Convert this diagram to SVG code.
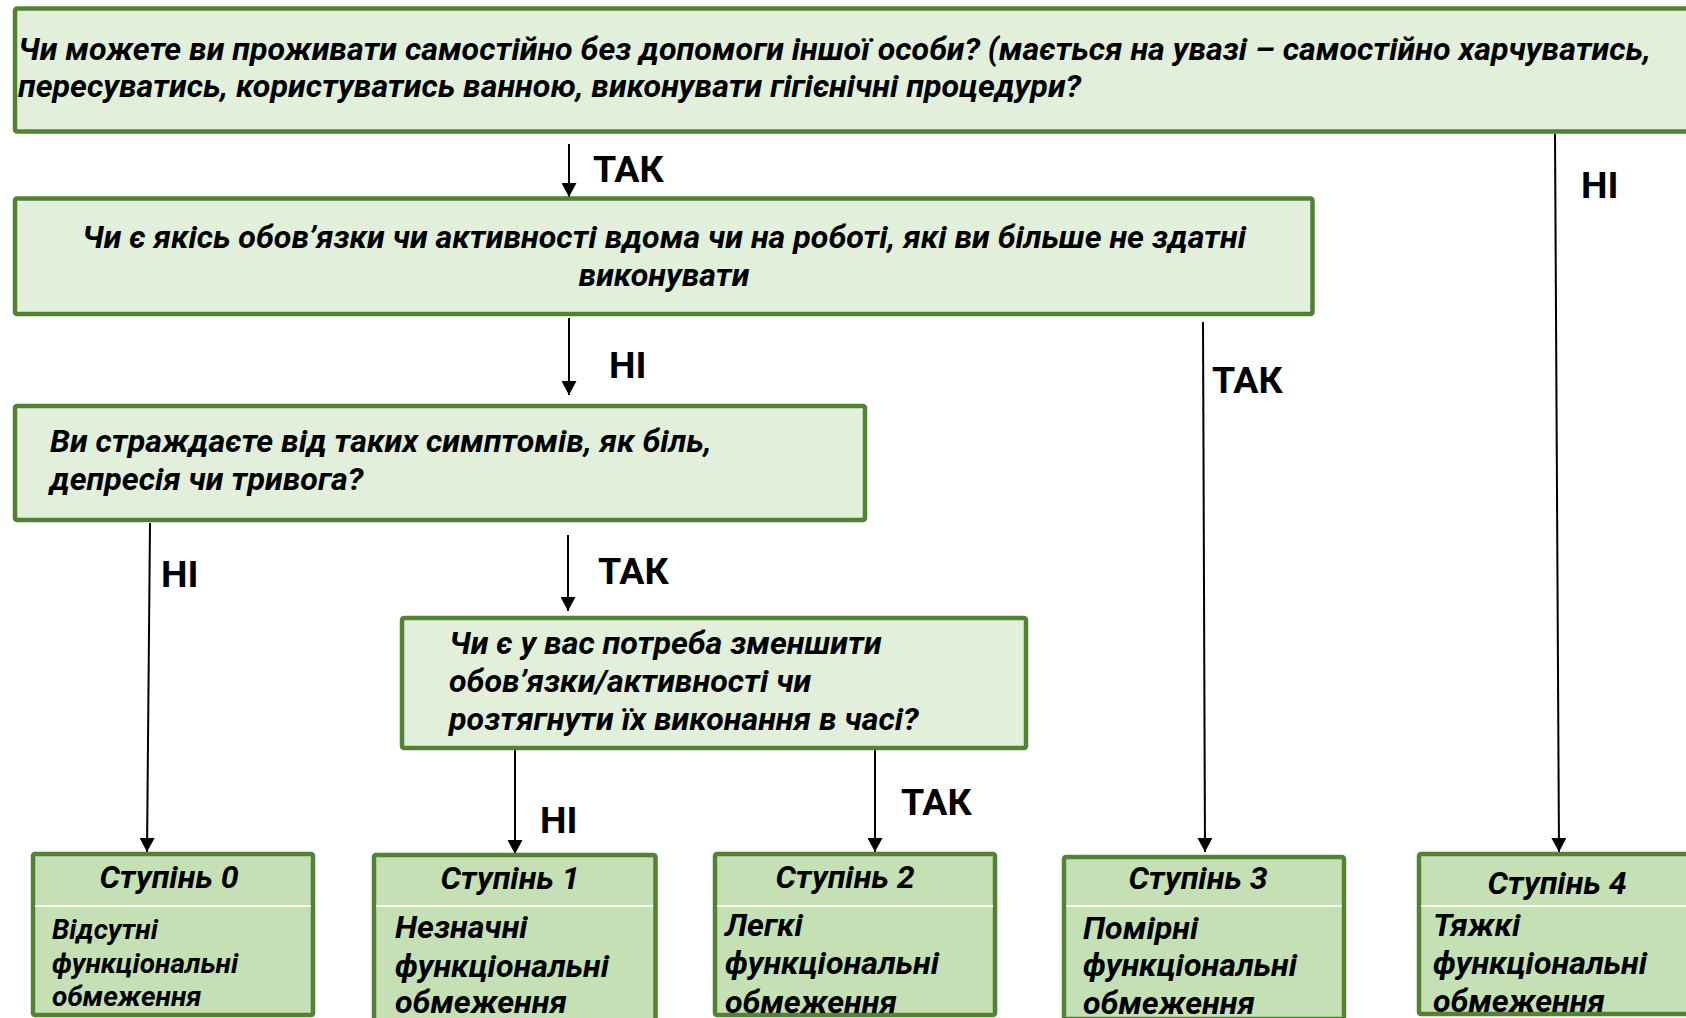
<svg xmlns="http://www.w3.org/2000/svg" width="1686" height="1018" viewBox="0 0 1686 1018">
<style>
.q{fill:#e2efda;stroke:#548235;stroke-width:4.5}
.g{fill:#c5e0b4;stroke:#548235;stroke-width:4.5}
.t{font-family:Roboto,"Liberation Sans",sans-serif;font-weight:bold;font-style:italic;font-size:32.2px;fill:#000}
.ts{font-family:Roboto,"Liberation Sans",sans-serif;font-weight:bold;font-style:italic;font-size:28px;fill:#000}
.l{font-family:Roboto,"Liberation Sans",sans-serif;font-weight:bold;font-size:37.5px;fill:#000}
.c{stroke:#000;stroke-width:2;fill:none;marker-end:url(#ah)}
.d{stroke:#fff;stroke-width:2}
</style>
<defs>
<marker id="ah" markerUnits="userSpaceOnUse" markerWidth="15" markerHeight="15" refX="14" refY="7.5" orient="auto">
<path d="M0,0 L14,7.5 L0,15 z" fill="#000"/>
</marker>
</defs>
<rect width="1686" height="1018" fill="#fff"/>

<g id="connectors">
<line class="c" x1="569" y1="144" x2="569" y2="197"/>
<text class="l" x="593" y="182">ТАК</text>
<line class="c" x1="1555" y1="134" x2="1559" y2="852"/>
<text class="l" x="1581" y="198">НІ</text>
<line class="c" x1="569" y1="318" x2="569" y2="395"/>
<text class="l" x="609" y="378">НІ</text>
<line class="c" x1="1203" y1="322" x2="1205" y2="852"/>
<text class="l" x="1212" y="393">ТАК</text>
<line class="c" x1="150" y1="523" x2="147" y2="852"/>
<text class="l" x="161" y="587">НІ</text>
<line class="c" x1="568" y1="535" x2="568" y2="611"/>
<text class="l" x="598" y="584">ТАК</text>
<line class="c" x1="515" y1="750" x2="515" y2="854"/>
<text class="l" x="540" y="833">НІ</text>
<line class="c" x1="875" y1="750" x2="875" y2="852"/>
<text class="l" x="901" y="815">ТАК</text>
</g>

<g id="q1">
<rect class="q" x="15" y="8.5" width="1700" height="123" rx="2"/>
<text class="t" x="18" y="60">Чи можете ви проживати самостійно без допомоги іншої особи? (мається на увазі – самостійно харчуватись,</text>
<text class="t" x="18" y="97">пересуватись, користуватись ванною, виконувати гігієнічні процедури?</text>
</g>

<g id="q2">
<rect class="q" x="15" y="198.5" width="1297.5" height="115.5" rx="2"/>
<text class="t" x="664" y="248" text-anchor="middle">Чи є якісь обов’язки чи активності вдома чи на роботі, які ви більше не здатні</text>
<text class="t" x="664" y="286" text-anchor="middle">виконувати</text>
</g>

<g id="q3">
<rect class="q" x="15" y="406" width="850" height="114" rx="2"/>
<text class="t" x="50" y="452">Ви страждаєте від таких симптомів, як біль,</text>
<text class="t" x="50" y="490">депресія чи тривога?</text>
</g>

<g id="q4">
<rect class="q" x="402" y="618" width="624" height="130" rx="2"/>
<text class="t" x="449" y="654">Чи є у вас потреба зменшити</text>
<text class="t" x="449" y="692">обов’язки/активності чи</text>
<text class="t" x="449" y="730">розтягнути їх виконання в часі?</text>
</g>

<g id="s0">
<rect class="g" x="33" y="854" width="280" height="161" rx="2"/>
<line class="d" x1="35" y1="906" x2="311" y2="906"/>
<text class="t" x="169" y="888" text-anchor="middle">Ступінь 0</text>
<text class="ts" x="52" y="939">Відсутні</text>
<text class="ts" x="52" y="973">функціональні</text>
<text class="ts" x="52" y="1006">обмеження</text>
</g>

<g id="s1">
<rect class="g" x="374" y="855" width="281.5" height="170" rx="2"/>
<line class="d" x1="376" y1="906" x2="653" y2="906"/>
<text class="t" x="510" y="889" text-anchor="middle">Ступінь 1</text>
<text class="t" x="395" y="938">Незначні</text>
<text class="t" x="395" y="977">функціональні</text>
<text class="t" x="395" y="1013">обмеження</text>
</g>

<g id="s2">
<rect class="g" x="715" y="854" width="280" height="161" rx="2"/>
<line class="d" x1="717" y1="906" x2="993" y2="906"/>
<text class="t" x="845" y="888" text-anchor="middle">Ступінь 2</text>
<text class="t" x="725" y="936">Легкі</text>
<text class="t" x="725" y="974">функціональні</text>
<text class="t" x="725" y="1013">обмеження</text>
</g>

<g id="s3">
<rect class="g" x="1064" y="857" width="280" height="162" rx="2"/>
<line class="d" x1="1066" y1="906" x2="1342" y2="906"/>
<text class="t" x="1198" y="889" text-anchor="middle">Ступінь 3</text>
<text class="t" x="1083" y="939">Помірні</text>
<text class="t" x="1083" y="976">функціональні</text>
<text class="t" x="1083" y="1014">обмеження</text>
</g>

<g id="s4">
<rect class="g" x="1419" y="854" width="284" height="160" rx="2"/>
<line class="d" x1="1421" y1="906" x2="1686" y2="906"/>
<text class="t" x="1557" y="894" text-anchor="middle">Ступінь 4</text>
<text class="t" x="1433" y="936">Тяжкі</text>
<text class="t" x="1433" y="974">функціональні</text>
<text class="t" x="1433" y="1012">обмеження</text>
</g>
</svg>
